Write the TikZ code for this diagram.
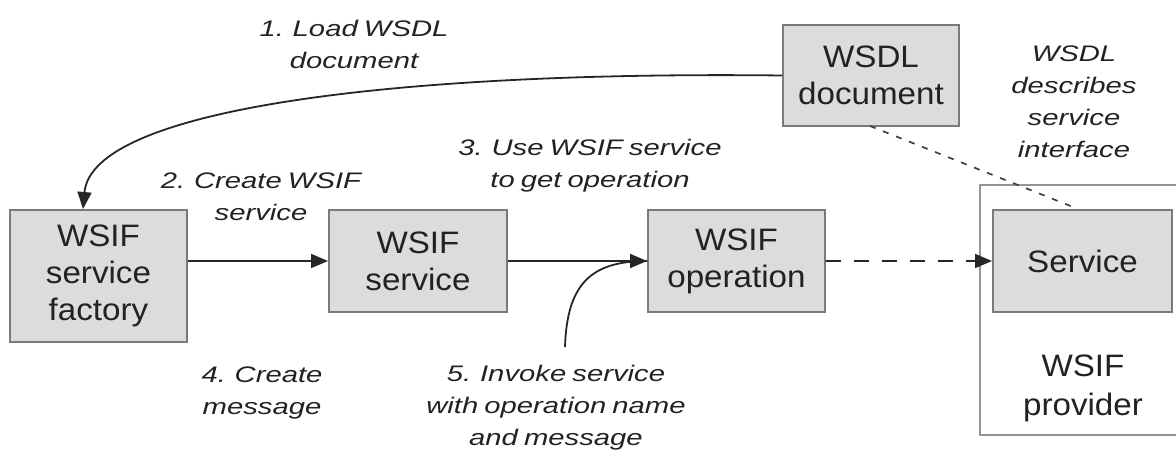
\documentclass[tikz,border=0pt]{standalone}
\usepackage{fontspec}
\usetikzlibrary{arrows.meta}
\newfontfamily\boxfont[FakeStretch=1.07]{Liberation Sans}
\newfontfamily\lblfont[FakeStretch=1.3,WordSpace=0.75]{Liberation Sans}
\definecolor{boxfill}{HTML}{DCDCDC}
\definecolor{boxline}{HTML}{7A7A7A}
\definecolor{txt}{HTML}{222222}
\tikzset{
  box/.style={draw=boxline, line width=2pt, fill=boxfill, inner sep=0pt, align=center,
    text=txt, font={\boxfont\fontsize{31}{37}\selectfont}},
  lbl/.style={inner sep=0pt, align=center, text=txt,
    font={\lblfont\itshape\fontsize{22.5}{32}\selectfont}},
  conn/.style={draw=black!85, line width=1.8pt},
  tip/.style={-{Triangle[length=17pt,width=14pt]}},
  longdash/.style={dash pattern=on 15pt off 13pt},
  shortdash/.style={draw=black!75, line width=1.7pt, dash pattern=on 6pt off 8pt},
}
\begin{document}
\begin{tikzpicture}[x=1pt,y=-1pt]
\useasboundingbox (0,0) rectangle (1176,457);
% provider frame
\draw[draw=boxline!80, line width=1.6pt] (1176,185) -- (980,185) -- (980,435) -- (1176,435);
% boxes
\node[box, minimum width=177pt, minimum height=132pt] (fac) at (98.5,276) {WSIF\\service\\factory};
\node[box, minimum width=178pt, minimum height=102pt] (srv) at (418,261) {WSIF\\service};
\node[box, minimum width=177pt, minimum height=102pt] (op) at (736.5,261) {WSIF\\operation};
\node[box, minimum width=179pt, minimum height=102pt] (svc) at (1082.5,261) {Service};
\node[box, minimum width=176pt, minimum height=101pt] (wsdl) at (871,75.5) {WSDL\\document};
% labels
\node[lbl] (l1) at (354,44) {1. Load WSDL\\document};
\node[lbl] (l2) at (261,197) {2. Create WSIF\\service};
\node[lbl] (l3) at (590,166) {3. Use WSIF service\\to get operation};
\node[lbl] (l4) at (262,393) {4. Create\\message};
\node[lbl] (l5) at (556,408) {5. Invoke service\\with operation name\\and message};
\node[lbl] (l6) at (1074,102) {WSDL\\describes\\service\\interface};
\node[inner sep=0pt, align=center, text=txt, font={\boxfont\fontsize{31}{39}\selectfont}] (prov) at (1083,388) {WSIF\\provider};
% connectors
\coordinate (c5) at (565,347);
\draw[conn, tip] (wsdl.west) .. controls (400,71) and (92,108) .. (fac.north -| 83,0);
\draw[conn, tip] (fac.east |- srv.west) -- (srv.west);
\draw[conn, tip] (srv.east) -- (op.west);
\draw[conn] (c5) .. controls (567,285) and (590,261) .. (op.west);
\draw[conn, tip, longdash] (op.east) -- (svc.west);
\draw[shortdash] (870,126) -- (1078,209);
\end{tikzpicture}
\end{document}
